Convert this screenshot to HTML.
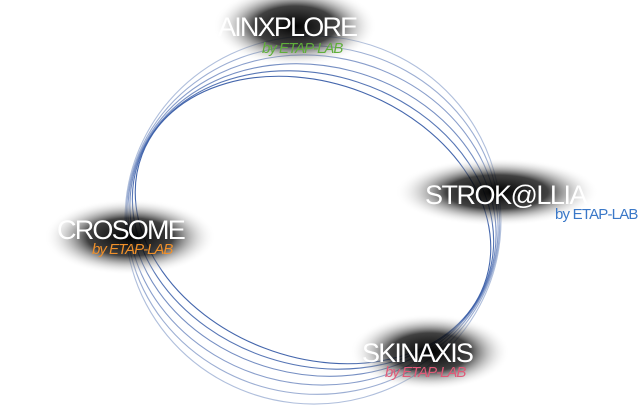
<!DOCTYPE html>
<html><head><style>
html,body{margin:0;padding:0;background:#fff;width:644px;height:412px;overflow:hidden}
svg{display:block}
text{font-family:"Liberation Sans",sans-serif}
</style></head><body>
<svg width="644" height="412" viewBox="0 0 644 412" xmlns="http://www.w3.org/2000/svg" style="overflow:hidden">
<defs>
<radialGradient id="g" cx="50%" cy="50%" r="50%">
<stop offset="0" stop-color="#000" stop-opacity="1"/>
<stop offset="0.5" stop-color="#111" stop-opacity="0.8"/>
<stop offset="1" stop-color="#fff" stop-opacity="0"/>
</radialGradient>
</defs>
<g fill="none" stroke="#3a5ea8" stroke-width="1.1">
<ellipse cx="313" cy="220" rx="188" ry="184" transform="rotate(6 313 220)" stroke-opacity="0.4"/>
<ellipse cx="313" cy="220" rx="187" ry="174" transform="rotate(9 313 220)" stroke-opacity="0.5"/>
<ellipse cx="313" cy="220" rx="186" ry="164" transform="rotate(12 313 220)" stroke-opacity="0.6"/>
<ellipse cx="313" cy="220" rx="185" ry="154" transform="rotate(15 313 220)" stroke-opacity="0.7"/>
<ellipse cx="313" cy="220" rx="184" ry="145" transform="rotate(18 313 220)" stroke-opacity="0.85"/>
<ellipse cx="313" cy="220" rx="183" ry="137" transform="rotate(21 313 220)" stroke-opacity="0.95"/>
</g>
<ellipse cx="295" cy="26" rx="82" ry="40" fill="url(#g)"/>
<ellipse cx="497" cy="192" rx="102" ry="34" fill="url(#g)"/>
<ellipse cx="130" cy="237" rx="86" ry="38" fill="url(#g)"/>
<ellipse cx="430" cy="352" rx="80" ry="38" fill="url(#g)"/>
<text x="218" y="36" font-size="27" fill="#fff" letter-spacing="-1.8">AINXPLORE</text>
<text x="262" y="53" font-size="15" fill="#5fae3a" font-style="italic" letter-spacing="-1">by ETAP-LAB</text>
<text x="425" y="204" font-size="27" fill="#fff" letter-spacing="-1.5">STROK@LLIA</text>
<text x="555" y="219" font-size="15" fill="#3a78c8" letter-spacing="-0.8">by ETAP-LAB</text>
<text x="57" y="239" font-size="27" fill="#fff" letter-spacing="-1.8">CROSOME</text>
<text x="92" y="254" font-size="15" fill="#f0902a" font-style="italic" letter-spacing="-1">by ETAP-LAB</text>
<text x="362" y="362" font-size="27" fill="#fff" letter-spacing="-1.8">SKINAXIS</text>
<text x="385" y="377" font-size="15" fill="#e05a78" font-style="italic" letter-spacing="-1">by ETAP-LAB</text>
</svg>
</body></html>
